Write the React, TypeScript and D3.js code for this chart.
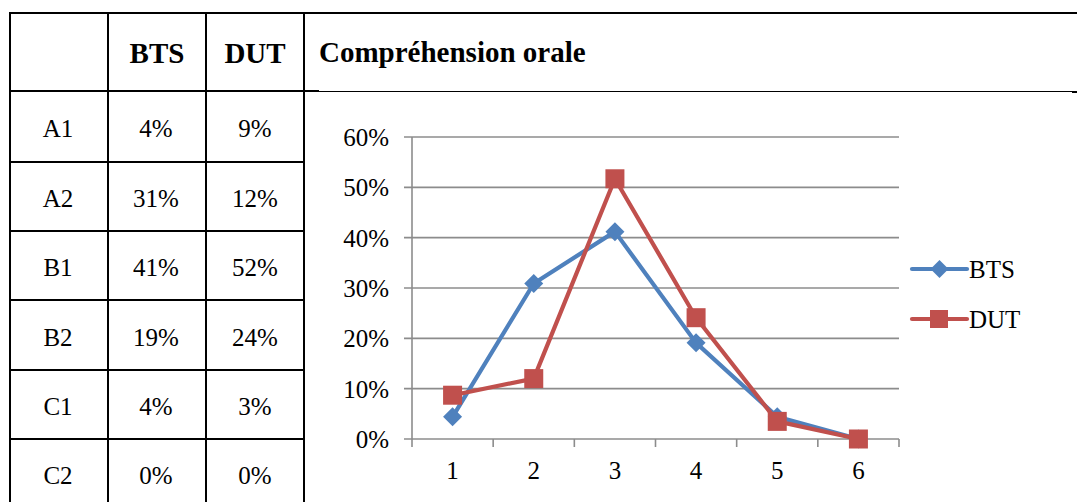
import React from "react";
import * as d3 from "d3";

const levels = ["A1", "A2", "B1", "B2", "C1", "C2"];
const btsTable = ["4%", "31%", "41%", "19%", "4%", "0%"];
const dutTable = ["9%", "12%", "52%", "24%", "3%", "0%"];
const xCategories = ["1", "2", "3", "4", "5", "6"];
const btsValues = [0.044, 0.309, 0.412, 0.191, 0.044, 0.0];
const dutValues = [0.087, 0.12, 0.517, 0.241, 0.035, 0.0];
const yTicks = [0, 0.1, 0.2, 0.3, 0.4, 0.5, 0.6];
const seriesNames = ["BTS", "DUT"];
const chartTitle = "Compréhension orale";

const FONT = "'Liberation Serif', 'Times New Roman', serif";
const BLUE = "#4F81BD";
const RED = "#C0504D";
const GRID = "#8C8C8C";

export default function App() {
  const W = 1078;
  const H = 502;
  // table geometry
  const colX = [10, 108, 206, 304];
  const rowY = [13, 91, 162, 231, 300, 370, 439, 508];

  // chart
  const x = d3.scaleBand<string>().domain(xCategories).range([412, 899]);
  const y = d3.scaleLinear().domain([0, 0.6]).range([439, 137]);
  const cx = (i: number) => (x(xCategories[i]) as number) + x.bandwidth() / 2;
  const line = d3
    .line<number>()
    .x((_, i) => cx(i))
    .y((d) => y(d));

  const diamond = (px: number, py: number, r: number) =>
    `M${px},${py - r}L${px + r},${py}L${px},${py + r}L${px - r},${py}Z`;

  const fs = 25;
  const fsHead = 29;

  return (
    <svg
      width={W}
      height={H}
      style={{ position: "absolute", left: 0, top: 0, background: "#fff" }}
    >
      <rect x={0} y={0} width={W} height={H} fill="#fff" />
      {/* table borders */}
      <line x1={10} y1={13} x2={1077} y2={13} stroke="#000" strokeWidth={2.2} />
      {colX.map((cxv, i) => (
        <line key={"v" + i} x1={cxv} y1={12} x2={cxv} y2={H} stroke="#000" strokeWidth={2} />
      ))}
      {rowY.slice(1, 7).map((ry, i) => (
        <line key={"h" + i} x1={9} y1={ry} x2={i === 0 ? 319 : 305} y2={ry} stroke="#000" strokeWidth={2} />
      ))}
      <line x1={319} y1={91.5} x2={1072} y2={91.5} stroke="#000" strokeWidth={1} />
      <line x1={1072} y1={92} x2={1077} y2={92} stroke="#000" strokeWidth={2} />

      {/* header */}
      <g fontFamily={FONT} fill="#000">
        {seriesNames.map((s, i) => (
          <text key={s} x={(colX[i + 1] + colX[i + 2]) / 2} y={63} textAnchor="middle" fontWeight="bold" fontSize={fsHead}>
            {s}
          </text>
        ))}
        <text x={319} y={62} fontWeight="bold" fontSize={fsHead}>
          {chartTitle}
        </text>
        {levels.map((lv, i) => {
          const ty = (rowY[i + 1] + rowY[i + 2]) / 2 + 10.5;
          return (
            <g key={lv} fontSize={fs}>
              <text x={58} y={ty} textAnchor="middle">{lv}</text>
              <text x={156} y={ty} textAnchor="middle">{btsTable[i]}</text>
              <text x={255} y={ty} textAnchor="middle">{dutTable[i]}</text>
            </g>
          );
        })}
      </g>

      {/* gridlines */}
      {yTicks.map((t) => (
        <g key={"g" + t}>
          <line x1={404} x2={899} y1={y(t)} y2={y(t)} stroke={GRID} strokeWidth={1.6} />
          <text x={389} y={y(t) + 9} textAnchor="end" fontFamily={FONT} fontSize={fs} fill="#000">
            {d3.format(".0%")(t)}
          </text>
        </g>
      ))}
      {/* y axis */}
      <line x1={412} x2={412} y1={137} y2={439} stroke={GRID} strokeWidth={1.6} />
      {/* x axis ticks */}
      {xCategories.map((c) => (
        <line
          key={"t" + c}
          x1={x(c) as number}
          x2={x(c) as number}
          y1={439}
          y2={447}
          stroke={GRID}
          strokeWidth={1.6}
        />
      ))}
      <line x1={899} x2={899} y1={439} y2={447} stroke={GRID} strokeWidth={1.6} />
      {xCategories.map((c, i) => (
        <text key={"xl" + c} x={cx(i)} y={479} textAnchor="middle" fontFamily={FONT} fontSize={fs} fill="#000">
          {c}
        </text>
      ))}

      {/* series */}
      <path d={line(btsValues) as string} fill="none" stroke={BLUE} strokeWidth={4.2} strokeLinejoin="round" />
      {btsValues.map((v, i) => (
        <path key={"b" + i} d={diamond(cx(i), y(v), 9.5)} fill={BLUE} />
      ))}
      <path d={line(dutValues) as string} fill="none" stroke={RED} strokeWidth={4.2} strokeLinejoin="round" />
      {dutValues.map((v, i) => (
        <rect key={"d" + i} x={cx(i) - 9.5} y={y(v) - 9.5} width={19} height={19} fill={RED} />
      ))}

      {/* legend */}
      <line x1={912} x2={967} y1={269} y2={269} stroke={BLUE} strokeWidth={4.2} strokeLinecap="round" />
      <path d={diamond(939.5, 269, 9)} fill={BLUE} />
      <text x={969} y={278} fontFamily={FONT} fontSize={fs} fill="#000">{seriesNames[0]}</text>
      <line x1={912} x2={967} y1={319} y2={319} stroke={RED} strokeWidth={4.2} strokeLinecap="round" />
      <rect x={930} y={310} width={18} height={18} fill={RED} />
      <text x={969} y={328} fontFamily={FONT} fontSize={fs} fill="#000">{seriesNames[1]}</text>
    </svg>
  );
}
